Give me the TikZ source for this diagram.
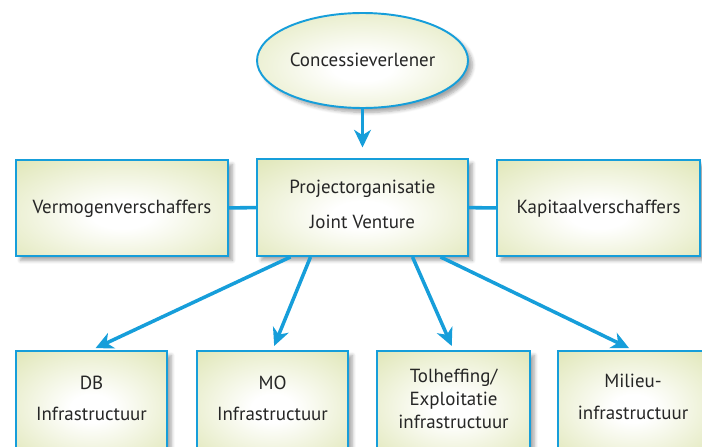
\documentclass[tikz,border=0pt]{standalone}
\usepackage{fontspec}
\setmainfont{PT Sans}
\usetikzlibrary{arrows.meta,shapes.geometric,shadows.blur,calc}
\definecolor{lineblue}{RGB}{22,158,218}
\definecolor{boxgreen}{RGB}{204,215,138}
\pgfdeclareradialshading{boxshade}{\pgfpoint{0bp}{-4bp}}{color(0bp)=(white); color(7bp)=(white); color(48bp)=(boxgreen!82!white); color(72bp)=(boxgreen); color(100bp)=(boxgreen)}
\begin{document}
\begin{tikzpicture}[x=0.02cm, y=-0.02cm, font=\fontsize{10.8}{13}\selectfont]
%% one unit is one pixel of the original drawing, y runs downwards
\tikzstyle{arc}=[-{Stealth[length=10pt,width=9.5pt,inset=3pt]},line width=2pt,draw=lineblue,shorten >=2.5pt]
\tikzstyle{link}=[line width=2pt,draw=lineblue]
\tikzstyle{every box}=[draw=lineblue,line width=1.1pt,inner sep=0pt,shading=boxshade,
  blur shadow={shadow xshift=2.5pt,shadow yshift=-2.5pt,shadow opacity=35,shadow blur steps=6}]
\tikzstyle{box}=[rectangle,every box]
\tikzstyle{oval}=[ellipse,every box]
\tikzstyle{lbl}=[align=center,text=black!85]
\useasboundingbox (0,0) rectangle (702,446);
\clip (0,0) rectangle (702,446);
%% TikZ-figure elements %%
\node[oval,minimum width=211*0.02cm,minimum height=95*0.02cm] at (362.5,60.5) (conc) {};
%% label for conc
\node[lbl] at (362.5,60) (concl) {Concessieverlener};
\node[box,minimum width=212*0.02cm,minimum height=96*0.02cm] at (122,208) (verm) {};
%% label for verm
\node[lbl] at (122,209) (verml) {Vermogenverschaffers};
\node[box,minimum width=211*0.02cm,minimum height=97*0.02cm] at (362.5,207.5) (proj) {};
%% label for proj
\node[lbl] at (362.5,204) (projl) {Projectorganisatie\\[7pt]Joint Venture};
\node[box,minimum width=203*0.02cm,minimum height=96*0.02cm] at (598.5,208) (kap) {};
%% label for kap
\node[lbl] at (598.5,209) (kapl) {Kapitaalverschaffers};
\node[box,minimum width=151*0.02cm,minimum height=100*0.02cm] at (91.5,401) (db) {};
%% label for db
\node[lbl] at (91.5,398.5) (dbl) {DB\\[5pt]Infrastructuur};
\node[box,minimum width=151*0.02cm,minimum height=100*0.02cm] at (272.5,401) (mo) {};
%% label for mo
\node[lbl] at (272.5,398.5) (mol) {MO\\[5pt]Infrastructuur};
\node[box,minimum width=153*0.02cm,minimum height=100*0.02cm] at (453.5,401) (tol) {};
%% label for tol
\node[lbl] at (453.5,399) (toll) {Tolheffing/\\Exploitatie\\infrastructuur};
\node[box,minimum width=150*0.02cm,minimum height=100*0.02cm] at (633,401) (mil) {};
%% label for mil
\node[lbl] at (633,397) (mill) {Milieu-\\[5pt]infrastructuur};
%% connections
\draw[arc,shorten >=6pt] (conc) -- (proj);
\draw[link] (verm) -- (proj);
\draw[link] (proj) -- (kap);
\draw[arc] ($(proj.south)+(-72,0)$) -- (db.north);
\draw[arc] ($(proj.south)+(-52,0)$) -- (mo.north);
\draw[arc] ($(proj.south)+(50,0)$) -- (tol.north);
\draw[arc] ($(proj.south)+(78,0)$) -- (mil.north);
\end{tikzpicture}
\end{document}
